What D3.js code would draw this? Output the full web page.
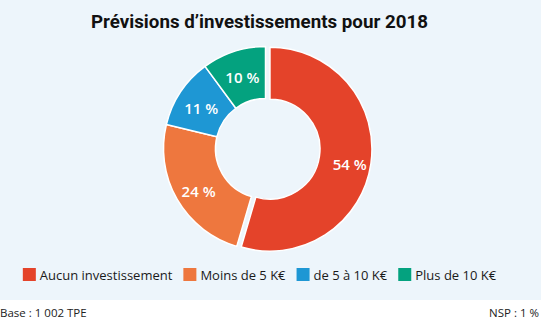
<!DOCTYPE html>
<html><head><meta charset="utf-8">
<script src="https://cdn.jsdelivr.net/npm/d3@7/dist/d3.min.js"></script>
<style>
html,body{margin:0;padding:0;background:#fff;}
svg{display:block;}
</style></head>
<body>
<svg id="chart" width="541" height="322"></svg>
<script>
const title = "Prévisions d’investissements pour 2018";
const categories = ["Aucun investissement", "Moins de 5 K€", "de 5 à 10 K€", "Plus de 10 K€"];
const values = [54, 24, 11, 10];
const colors = ["#e4432a", "#ee773e", "#1e97d4", "#04a27f"];
const footLeft = "Base : 1 002 TPE";
const footRight = "NSP : 1 %";

const W = 541, H = 322;
const svg = d3.select("#chart");
svg.append("rect").attr("x",0).attr("y",0).attr("width",W).attr("height",300).attr("fill","#edf5fb");

svg.append("text").attr("x",259.5).attr("y",28).attr("text-anchor","middle")
  .attr("font-family","Roboto, 'Open Sans', sans-serif").attr("font-weight",700)
  .attr("font-size",19).attr("fill","#111")
  .attr("textLength",337).attr("lengthAdjust","spacingAndGlyphs")
  .text(title);

const cx = 265.5, cy = 148.5, R = 102, r = 50;
const data = categories.map((c,i)=>({cat:c, value:values[i], color:colors[i]}));
const pie = d3.pie().value(d=>d.value).sort(null);
const arcs = pie(data);
const arc = d3.arc().innerRadius(r).outerRadius(R);
const labelArc = d3.arc().innerRadius(79).outerRadius(79);
const explode = 4.5;

const g = svg.append("g").attr("transform",`translate(${cx},${cy})`);
const slices = g.selectAll("g.slice").data(arcs).enter().append("g")
  .attr("transform",(d,i)=>{
    if(i!==0) return null;
    const a=(d.startAngle+d.endAngle)/2;
    return `translate(${Math.sin(a)*explode},${-Math.cos(a)*explode})`;
  });
slices.append("path").attr("d",arc).attr("fill",d=>d.data.color)
  .attr("stroke","#ffffff").attr("stroke-width",1.5).attr("stroke-linejoin","round");
slices.append("text").attr("transform",d=>{const c=labelArc.centroid(d);return `translate(${c[0]+1.5},${c[1]+4})`;})
  .attr("text-anchor","middle").attr("dy","0.36em")
  .attr("font-family","'Open Sans', sans-serif").attr("font-size",15).attr("font-weight",600)
  .attr("fill","#fff").text(d=>d.data.value+" %");

// legend
const lg = svg.append("g");
const items = lg.selectAll("g").data(data).enter().append("g");
items.append("rect").attr("width",13).attr("height",13).attr("y",268).attr("fill",d=>d.color);
items.append("text").attr("x",17).attr("y",280).attr("font-family","'Open Sans', sans-serif")
  .attr("font-size",13).attr("fill","#1a1a1a").text(d=>d.cat);
let x=0; const pos=[];
items.each(function(){const w=17+d3.select(this).select("text").node().getComputedTextLength();pos.push(x);x+=w+11;});
const total = x-11, start = 259.5-total/2;
items.attr("transform",(d,i)=>`translate(${start+pos[i]},0)`);

svg.append("text").attr("x",0).attr("y",317).attr("font-family","'Open Sans', sans-serif")
  .attr("font-size",11.5).attr("fill","#222").text(footLeft);
svg.append("text").attr("x",539).attr("y",317).attr("text-anchor","end").attr("font-family","'Open Sans', sans-serif")
  .attr("font-size",11.5).attr("fill","#222").text(footRight);
</script>
</body></html>
